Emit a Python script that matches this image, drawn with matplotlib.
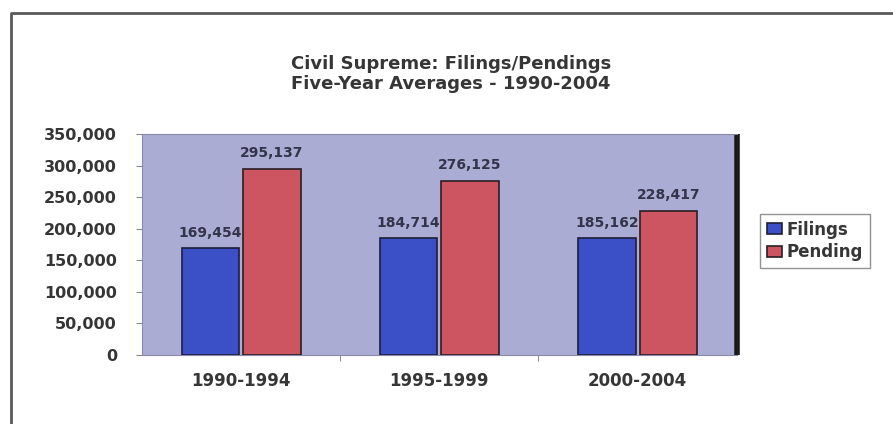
import matplotlib
import matplotlib.pyplot as plt
from matplotlib.lines import Line2D
from matplotlib.ticker import FuncFormatter, FixedLocator

matplotlib.use('Agg')

# data
periods = ["1990-1994", "1995-1999", "2000-2004"]
filings = [169454, 184714, 185162]
pending = [295137, 276125, 228417]
series_names = ["Filings", "Pending"]
y_ticks = [0, 50000, 100000, 150000, 200000, 250000, 300000, 350000]

# colors
text_color = '#363636'
label_color = '#33334a'
wall_color = '#abacd4'
blue = '#3b50c6'
red = '#cd5561'

plt.rcParams['font.family'] = ['DejaVu Sans']
plt.rcParams['font.weight'] = 'bold'

fig = plt.figure(figsize=(8.93, 4.24), dpi=100)
fig.patch.set_facecolor('white')

# outer frame (only left and top are visible)
fig.add_artist(Line2D([0.0125, 0.0125, 1.0], [0.0, 0.969, 0.969],
                      transform=fig.transFigure, color='#5a5a5a', lw=2))

fig.text(0.505, 0.850, "Civil Supreme: Filings/Pendings", ha='center', va='center',
         fontsize=13, fontweight='heavy', color=text_color)
fig.text(0.505, 0.803, "Five-Year Averages - 1990-2004", ha='center', va='center',
         fontsize=13, fontweight='heavy', color=text_color)

ax = fig.add_axes([0.159, 0.163, 0.666, 0.521])
ax.set_facecolor(wall_color)

x = list(range(len(periods)))
w = 0.29
b1 = ax.bar([i - 0.155 for i in x], filings, w, color=blue, edgecolor='#1e1e3a',
            linewidth=1.2, label=series_names[0], zorder=3)
b2 = ax.bar([i + 0.155 for i in x], pending, w, color=red, edgecolor='#2a1e24',
            linewidth=1.2, label=series_names[1], zorder=3)

# value labels above the bars
for bars, vals in [(b1, filings), (b2, pending)]:
    for rect, v in zip(bars, vals):
        ax.annotate(f"{v:,}", (rect.get_x() + rect.get_width() / 2, v),
                    xytext=(0, 6), textcoords='offset points', ha='center', va='bottom',
                    fontsize=10, fontweight='bold', color=label_color)

ax.set_xlim(-0.5, 2.5)
ax.set_ylim(0, 350000)
ax.set_yticks(y_ticks)
ax.yaxis.set_major_formatter(FuncFormatter(lambda v, p: f"{int(v):,}"))
ax.set_xticks(x)
ax.set_xticklabels(periods)
ax.xaxis.set_minor_locator(FixedLocator([0.5, 1.5]))
ax.tick_params(axis='x', which='major', length=0, pad=12, labelsize=12, labelcolor=text_color)
ax.tick_params(axis='x', which='minor', length=4, color='#777777', direction='out')
ax.tick_params(axis='y', length=4, color='#888888', pad=14, labelsize=11.5, labelcolor=text_color)
for lab in ax.get_xticklabels() + ax.get_yticklabels():
    lab.set_fontweight('bold')

# plot area borders, dark wall on the right
ax.spines['left'].set_color('#8a8aa8')
ax.spines['top'].set_color('#8a8aa8')
ax.spines['bottom'].set_color('#8a8aa8')
ax.spines['right'].set_color('#1a1a1a')
ax.spines['right'].set_linewidth(4)
ax.spines['right'].set_capstyle('butt')

leg = ax.legend(loc='upper left', bbox_to_anchor=(0.851, 0.495), bbox_transform=fig.transFigure,
                frameon=True, fancybox=False, fontsize=12, handlelength=0.9, handleheight=0.65,
                handletextpad=0.3, borderpad=0.4, labelspacing=0.25, borderaxespad=0)
leg.get_frame().set_edgecolor('#777777')
leg.get_frame().set_linewidth(1)
for t in leg.get_texts():
    t.set_color(text_color)
    t.set_fontweight('bold')

fig.savefig('out.png', dpi=100)
plt.close()
